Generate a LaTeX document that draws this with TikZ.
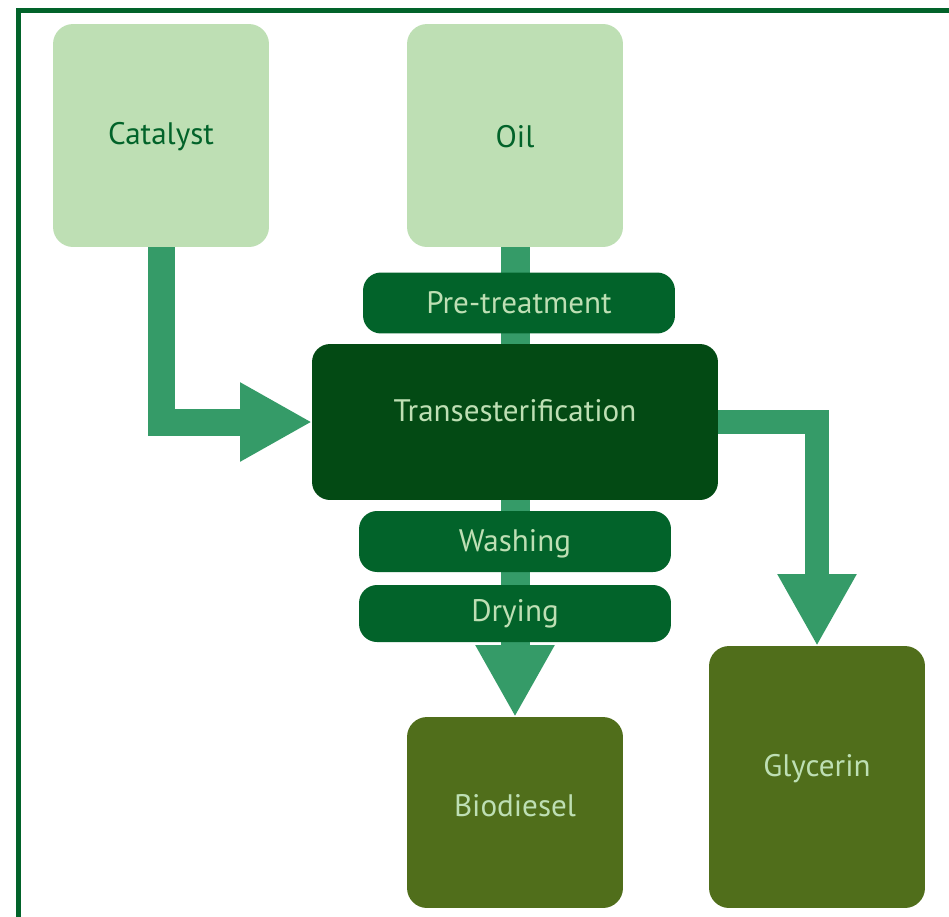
\documentclass[tikz,border=0pt]{standalone}
\usepackage{fontspec}
\setmainfont{PT Sans}
\usetikzlibrary{arrows.meta,backgrounds}
\definecolor{paleleaf}{HTML}{BEDFB4}
\definecolor{forest}{HTML}{02632A}
\definecolor{deepforest}{HTML}{034A14}
\definecolor{flowgreen}{HTML}{359B68}
\definecolor{olivebox}{HTML}{506E1B}
\begin{document}
\begin{tikzpicture}[x=0.02cm,y=-0.02cm,
  every node/.style={font=\fontsize{17.7}{21}\selectfont,inner sep=0pt,outer sep=0pt},
  feed/.style={fill=paleleaf,text=forest,rounded corners=0.4cm,minimum width=4.32cm,minimum height=4.46cm},
  stage/.style={fill=forest,text=paleleaf,rounded corners=0.36cm,minimum width=6.24cm,minimum height=1.22cm},
  product/.style={fill=olivebox,text=paleleaf,rounded corners=0.4cm,minimum width=4.32cm},
  flow/.style={draw=flowgreen,line width=0.56cm},
  bighead/.style={-{Triangle[width=1.48cm,length=1.44cm]}}]
\clip (0,0) rectangle (949,916);
\draw[color=forest,line width=0.1cm] (18.5,10.5) rectangle (1000,1000);

\node[feed,text height=0.5cm] (catalyst) at (161,135.5) {Catalyst};
\node[feed,text height=0.5cm] (oil) at (515,135.5) {Oil};
\node[stage] (pretreat) at (519,303) {Pre-treatment};
\node[stage,fill=deepforest,minimum width=8.12cm,minimum height=3.12cm,text depth=0.45cm] (trans) at (515,422) {Transesterification};
\node[stage,text height=0.55cm] (washing) at (515,541.5) {Washing};
\node[stage,minimum height=1.14cm] (drying) at (515,613.5) {Drying};
\node[product,minimum height=3.82cm,text depth=0.3cm] (biodiesel) at (515,812.5) {Biodiesel};
\node[product,minimum height=5.24cm,text depth=0.45cm] (glycerin) at (817,777) {Glycerin};

\begin{scope}[on background layer]
\draw[flow,line width=0.58cm] (oil.south) -- (trans.north);
\draw[flow,bighead,line width=0.58cm] (trans.south) -- (biodiesel.north);
\draw[flow,bighead,line width=0.54cm] (catalyst.south) |- (trans.west);
\draw[flow,bighead,line width=0.48cm] (trans.east) -| (glycerin.north);
\end{scope}
\end{tikzpicture}
\end{document}
